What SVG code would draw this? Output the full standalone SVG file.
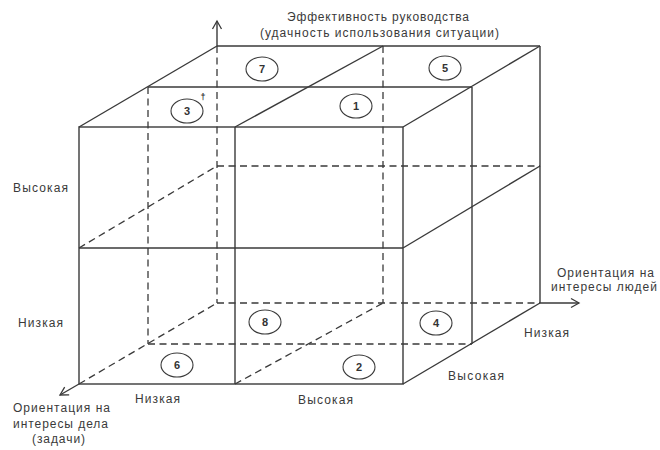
<svg xmlns="http://www.w3.org/2000/svg" width="660" height="450" viewBox="0 0 660 450">
<style>
.s{stroke:#3a3a3a;stroke-width:1.4;fill:none}
.d{stroke:#3a3a3a;stroke-width:1.3;fill:none;stroke-dasharray:7 4.5}
.c{stroke:#3a3a3a;stroke-width:1.1;fill:none}
.n{font-family:"Liberation Sans",Arial,sans-serif;font-size:11px;font-weight:bold;fill:#333;text-anchor:middle}
.t{font-family:"Liberation Sans",Arial,sans-serif;font-size:12px;fill:#3a3a3a}
</style>
<defs>
<marker id="arr" markerWidth="12" markerHeight="12" refX="9" refY="6" orient="auto" markerUnits="userSpaceOnUse">
<path d="M1,1.5 L9,6 L1,10.5" fill="none" stroke="#3a3a3a" stroke-width="1.3"/>
</marker>
</defs>
<rect width="660" height="450" fill="#fff"/>
<g id="cube">
<rect class="s" x="79" y="127" width="324" height="257"/>
<line class="s" x1="235" y1="127" x2="235" y2="384"/>
<line class="s" x1="79" y1="248" x2="403" y2="248"/>
<line class="s" x1="217" y1="46" x2="540" y2="46"/>
<line class="s" x1="148" y1="87" x2="472" y2="87"/>
<line class="s" x1="79" y1="127" x2="217" y2="46"/>
<line class="s" x1="235" y1="127" x2="383" y2="46"/>
<line class="s" x1="403" y1="127" x2="540" y2="46"/>
<line class="s" x1="540" y1="46" x2="540" y2="303"/>
<line class="s" x1="472" y1="87" x2="472" y2="344"/>
<line class="s" x1="403" y1="248" x2="540" y2="166"/>
<line class="s" x1="403" y1="384" x2="540" y2="303"/>
</g>
<g id="hidden">
<line class="d" x1="217" y1="46" x2="217" y2="303"/>
<line class="d" x1="148" y1="87" x2="148" y2="344"/>
<line class="d" x1="383" y1="46" x2="383" y2="303"/>
<line class="d" x1="217" y1="166" x2="540" y2="166"/>
<line class="d" x1="217" y1="303" x2="540" y2="303"/>
<line class="d" x1="148" y1="344" x2="472" y2="344"/>
<line class="d" x1="79" y1="248" x2="217" y2="166"/>
<line class="d" x1="79" y1="384" x2="217" y2="303"/>
<line class="d" x1="235" y1="384" x2="383" y2="303"/>
</g>
<g id="axes">
<line class="s" x1="217" y1="46" x2="217" y2="21" marker-end="url(#arr)"/>
<line class="s" x1="540" y1="303" x2="579" y2="303" marker-end="url(#arr)"/>
<line class="s" x1="79" y1="384" x2="60" y2="395" marker-end="url(#arr)"/>
</g>
<g id="cell7"><ellipse class="c" cx="262" cy="69" rx="16" ry="12"/><text class="n" x="262" y="73">7</text></g>
<g id="cell5"><ellipse class="c" cx="445" cy="68" rx="16" ry="12"/><text class="n" x="445" y="72">5</text></g>
<g id="cell3"><ellipse class="c" cx="187" cy="111" rx="16" ry="12"/><text class="n" x="187" y="115">3</text><text class="n" x="203" y="100" style="font-size:9px">†</text></g>
<g id="cell1"><ellipse class="c" cx="356" cy="106" rx="16" ry="12"/><text class="n" x="356" y="110">1</text></g>
<g id="cell8"><ellipse class="c" cx="265" cy="322" rx="16" ry="12"/><text class="n" x="265" y="326">8</text></g>
<g id="cell4"><ellipse class="c" cx="436" cy="323" rx="16" ry="12"/><text class="n" x="436" y="327">4</text></g>
<g id="cell6"><ellipse class="c" cx="177" cy="365" rx="16" ry="12"/><text class="n" x="177" y="369">6</text></g>
<g id="cell2"><ellipse class="c" cx="359" cy="367" rx="16" ry="12"/><text class="n" x="359" y="371">2</text></g>
<g id="labels">
<text class="t" x="287" y="21" textLength="182" lengthAdjust="spacing">Эффективность руководства</text>
<text class="t" x="260" y="37" textLength="239" lengthAdjust="spacing">(удачность использования ситуации)</text>
<text class="t" x="13" y="192" textLength="55" lengthAdjust="spacing">Высокая</text>
<text class="t" x="18" y="327" textLength="45" lengthAdjust="spacing">Низкая</text>
<text class="t" x="13" y="412" textLength="97" lengthAdjust="spacing">Ориентация на</text>
<text class="t" x="13" y="428" textLength="95" lengthAdjust="spacing">интересы дела</text>
<text class="t" x="32" y="443" textLength="53" lengthAdjust="spacing">(задачи)</text>
<text class="t" x="135" y="403" textLength="45" lengthAdjust="spacing">Низкая</text>
<text class="t" x="298" y="404" textLength="55" lengthAdjust="spacing">Высокая</text>
<text class="t" x="448" y="380" textLength="56" lengthAdjust="spacing">Высокая</text>
<text class="t" x="524" y="337" textLength="45" lengthAdjust="spacing">Низкая</text>
<text class="t" x="557" y="277" textLength="97" lengthAdjust="spacing">Ориентация на</text>
<text class="t" x="551" y="291" textLength="106" lengthAdjust="spacing">интересы людей</text>
</g>
</svg>
